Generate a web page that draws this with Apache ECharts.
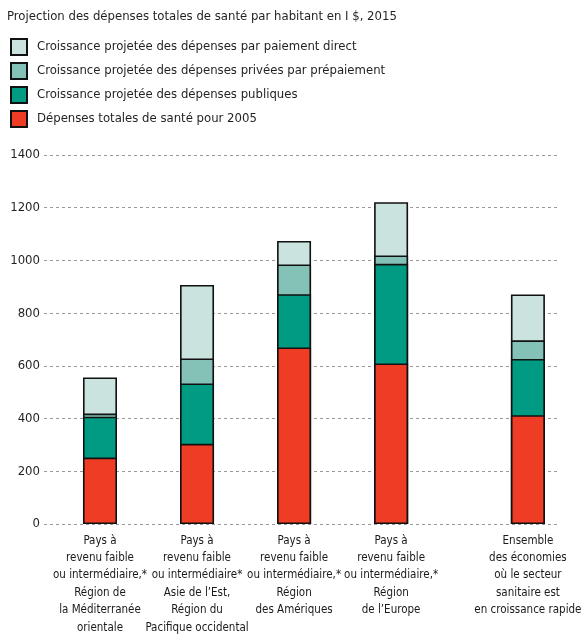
<!DOCTYPE html>
<html>
<head>
<meta charset="utf-8">
<script src="https://cdn.jsdelivr.net/npm/echarts@6/dist/echarts.min.js"></script>
<style>
html,body{margin:0;padding:0;background:#fff;}
#c{width:582px;height:634px;}
</style>
</head>
<body>
<div id="c"></div>
<script>
var FONT = '"Liberation Sans Narrow","DejaVu Sans Condensed","Roboto","Liberation Sans",sans-serif';
var titleText = 'Projection des dépenses totales de santé par habitant en I $, 2015';
var categories = [
  'Pays à\nrevenu faible\nou intermédiaire,*\nRégion de\nla Méditerranée\norientale',
  'Pays à\nrevenu faible\nou intermédiaire*\nAsie de l\u2019Est,\nRégion du\nPacifique occidental',
  'Pays à\nrevenu faible\nou intermédiaire,*\nRégion\ndes Amériques',
  'Pays à\nrevenu faible\nou intermédiaire,*\nRégion\nde l\u2019Europe',
  'Ensemble\ndes économies\noù le secteur\nsanitaire est\nen croissance rapide'
];
var categoryPositions = [0, 1, 2, 3, 4.41];
var seriesNames = [
  'Dépenses totales de santé pour 2005',
  'Croissance projetée des dépenses publiques',
  'Croissance projetée des dépenses privées par prépaiement',
  'Croissance projetée des dépenses par paiement direct'
];
var total2005 = [252, 304, 670, 609, 413];
var publicGrowth = [155, 229, 202, 378, 213];
var prepaidGrowth = [12, 95, 113, 32, 71];
var directGrowth = [137, 279, 89, 202, 174];
var yTicks = [0, 200, 400, 600, 800, 1000, 1200, 1400];

var colors = ['#ef3c25', '#009b82', '#84c2b7', '#cae3de'];
var valuesList = [total2005, publicGrowth, prepaidGrowth, directGrowth];

// cumulative tops of each stacked segment (bars are drawn from 0, upper segments behind lower ones)
var cumulative = [];
valuesList.forEach(function(vals, k){
  cumulative.push(vals.map(function(v, i){ return (k ? cumulative[k-1][i] : 0) + v; }));
});

var series = [];
for (var k = valuesList.length - 1; k >= 0; k--) {
  series.push({
    name: seriesNames[k],
    type: 'bar',
    barWidth: 34,
    barGap: '-100%',
    data: cumulative[k].map(function(v, i){ return [categoryPositions[i], v]; }),
    itemStyle: {color: colors[k], borderColor: '#111', borderWidth: 1.6},
    emphasis: {disabled: true}
  });
}
// category labels under the axis, placed through the x scale
series.push({
  name: 'categories',
  type: 'scatter',
  silent: true,
  symbolSize: 0,
  itemStyle: {opacity: 1},
  data: categoryPositions.map(function(p){ return [p, yTicks[0]]; }),
  label: {
    show: true, position: 'bottom', distance: 8,
    fontFamily: FONT, fontSize: 11.5, color: '#1a1a1a', opacity: 1,
    lineHeight: 17.4, align: 'center',
    formatter: function(p){ return categories[p.dataIndex]; }
  },
  labelLayout: {hideOverlap: false}
});

var chart = echarts.init(document.getElementById('c'), null, {renderer: 'canvas'});
chart.setOption({
  animation: false,
  textStyle: {fontFamily: FONT},
  title: {
    text: titleText,
    left: 7, top: 10, padding: 0,
    textStyle: {fontFamily: FONT, fontSize: 13, fontWeight: 'normal', color: '#231f20'}
  },
  legend: {
    orient: 'vertical',
    left: 10, top: 38, padding: 0,
    icon: 'rect',
    itemWidth: 16, itemHeight: 16, itemGap: 6,
    data: [seriesNames[3], seriesNames[2], seriesNames[1], seriesNames[0]],
    textStyle: {fontFamily: FONT, fontSize: 13, lineHeight: 16, color: '#231f20', padding: [0,0,0,5]},
    selectedMode: false
  },
  grid: {left: 44, right: 24, top: 155, bottom: 110, containLabel: false, outerBoundsMode: 'none'},
  xAxis: {
    type: 'value',
    min: -0.577, max: 4.72,
    axisLine: {show: false},
    axisTick: {show: false},
    splitLine: {show: false},
    axisLabel: {show: false}
  },
  yAxis: {
    type: 'value',
    min: yTicks[0], max: yTicks[yTicks.length-1], interval: 200,
    axisLine: {show: false},
    axisTick: {show: false},
    axisLabel: {margin: 4, fontFamily: FONT, fontSize: 13, color: '#231f20',
      formatter: function(v){ return String(v); }},
    splitLine: {show: true, lineStyle: {color: '#999', width: 1, type: [3, 3]}}
  },
  series: series
});
</script>
</body>
</html>
